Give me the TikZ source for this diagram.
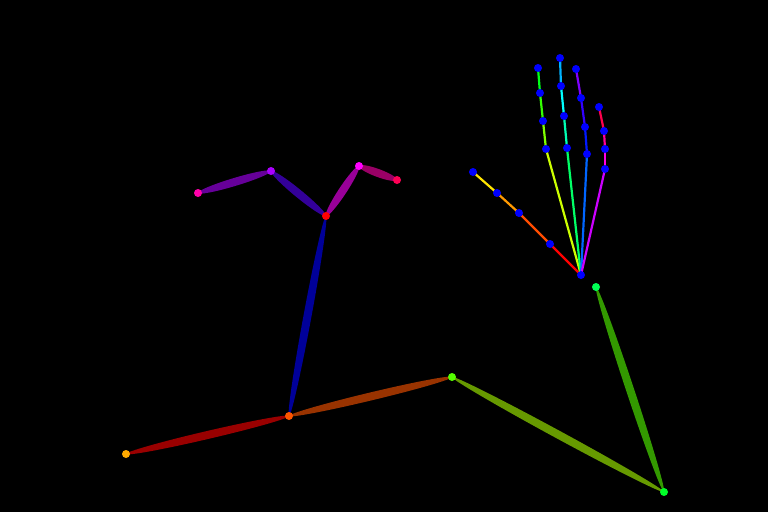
\documentclass[tikz,border=0pt]{standalone}
\usetikzlibrary{calc}
\definecolor{hc0}{RGB}{255,0,0}
\definecolor{hc1}{RGB}{255,76,0}
\definecolor{hc2}{RGB}{255,153,0}
\definecolor{hc3}{RGB}{255,229,0}
\definecolor{hc4}{RGB}{204,255,0}
\definecolor{hc5}{RGB}{127,255,0}
\definecolor{hc6}{RGB}{51,255,0}
\definecolor{hc7}{RGB}{0,255,25}
\definecolor{hc8}{RGB}{0,255,102}
\definecolor{hc9}{RGB}{0,255,178}
\definecolor{hc10}{RGB}{0,255,255}
\definecolor{hc11}{RGB}{0,178,255}
\definecolor{hc12}{RGB}{0,102,255}
\definecolor{hc13}{RGB}{0,25,255}
\definecolor{hc14}{RGB}{51,0,255}
\definecolor{hc15}{RGB}{127,0,255}
\definecolor{hc16}{RGB}{204,0,255}
\definecolor{hc17}{RGB}{255,0,229}
\definecolor{hc18}{RGB}{255,0,153}
\definecolor{hc19}{RGB}{255,0,76}
\definecolor{lAB}{RGB}{51,0,153}
\definecolor{lBC}{RGB}{102,0,153}
\definecolor{lAD}{RGB}{153,0,153}
\definecolor{lDE}{RGB}{153,0,102}
\definecolor{lAF}{RGB}{0,0,153}
\definecolor{lFG}{RGB}{153,0,0}
\definecolor{lFH}{RGB}{153,51,0}
\definecolor{lHI}{RGB}{102,153,0}
\definecolor{lIJ}{RGB}{51,153,0}
\definecolor{pA}{RGB}{255,0,0}
\definecolor{pB}{RGB}{170,0,255}
\definecolor{pC}{RGB}{255,0,170}
\definecolor{pD}{RGB}{255,0,255}
\definecolor{pE}{RGB}{255,0,85}
\definecolor{pF}{RGB}{255,85,0}
\definecolor{pG}{RGB}{255,170,0}
\definecolor{pH}{RGB}{85,255,0}
\definecolor{pI}{RGB}{0,255,40}
\definecolor{pJ}{RGB}{0,255,85}
\definecolor{hdot}{RGB}{0,0,255}
\tikzset{
  dot/.style={circle,inner sep=0pt,minimum size=8pt,draw=none},
  hbone/.style={line width=2.2pt,line cap=round},
}
\newcommand{\limbfill}[3]{%
  \path let \p1=($(#2)-(#1)$), \n1={veclen(\x1,\y1)/2}, \n2={atan2(\y1,\x1)} in
    [fill=#3] ($(#1)!0.5!(#2)$) circle[x radius=\n1, y radius=4pt, rotate=\n2];}
\begin{document}
\begin{tikzpicture}[x=1pt,y=-1pt]
\fill[black] (0,0) rectangle (768,512);
\useasboundingbox (0,0) rectangle (768,512);
% body coordinates
\coordinate (A) at (326,216);
\coordinate (B) at (271,171);
\coordinate (C) at (198,193);
\coordinate (D) at (359,166);
\coordinate (E) at (397,180);
\coordinate (F) at (289,416);
\coordinate (G) at (126,454);
\coordinate (H) at (452,377);
\coordinate (I) at (664,492);
\coordinate (J) at (596,287);
% hand coordinates
\coordinate (W) at (581,275);
\coordinate (t1) at (550,244);
\coordinate (t2) at (519,213);
\coordinate (t3) at (497,193);
\coordinate (t4) at (473,172);
\coordinate (i1) at (546,149);
\coordinate (i2) at (543,121);
\coordinate (i3) at (540,93);
\coordinate (i4) at (538,68);
\coordinate (m1) at (567,148);
\coordinate (m2) at (564,116);
\coordinate (m3) at (561,86);
\coordinate (m4) at (560,58);
\coordinate (r1) at (587,154);
\coordinate (r2) at (585,127);
\coordinate (r3) at (581,98);
\coordinate (r4) at (576,69);
\coordinate (p1) at (605,169);
\coordinate (p2) at (605,149);
\coordinate (p3) at (604,131);
\coordinate (p4) at (599,107);
% body limbs
\limbfill{A}{B}{lAB}
\limbfill{B}{C}{lBC}
\limbfill{A}{D}{lAD}
\limbfill{D}{E}{lDE}
\limbfill{A}{F}{lAF}
\limbfill{F}{G}{lFG}
\limbfill{F}{H}{lFH}
\limbfill{H}{I}{lHI}
\limbfill{I}{J}{lIJ}
% body points
\node[dot,fill=pA] (nA) at (A) {};
\node[dot,fill=pB] (nB) at (B) {};
\node[dot,fill=pC] (nC) at (C) {};
\node[dot,fill=pD] (nD) at (D) {};
\node[dot,fill=pE] (nE) at (E) {};
\node[dot,fill=pF] (nF) at (F) {};
\node[dot,fill=pG] (nG) at (G) {};
\node[dot,fill=pH] (nH) at (H) {};
\node[dot,fill=pI] (nI) at (I) {};
\node[dot,fill=pJ] (nJ) at (J) {};
% hand bones
\draw[hbone,hc0] (W) -- (t1);
\draw[hbone,hc1] (t1) -- (t2);
\draw[hbone,hc2] (t2) -- (t3);
\draw[hbone,hc3] (t3) -- (t4);
\draw[hbone,hc4] (W) -- (i1);
\draw[hbone,hc5] (i1) -- (i2);
\draw[hbone,hc6] (i2) -- (i3);
\draw[hbone,hc7] (i3) -- (i4);
\draw[hbone,hc8] (W) -- (m1);
\draw[hbone,hc9] (m1) -- (m2);
\draw[hbone,hc10] (m2) -- (m3);
\draw[hbone,hc11] (m3) -- (m4);
\draw[hbone,hc12] (W) -- (r1);
\draw[hbone,hc13] (r1) -- (r2);
\draw[hbone,hc14] (r2) -- (r3);
\draw[hbone,hc15] (r3) -- (r4);
\draw[hbone,hc16] (W) -- (p1);
\draw[hbone,hc17] (p1) -- (p2);
\draw[hbone,hc18] (p2) -- (p3);
\draw[hbone,hc19] (p3) -- (p4);
% hand points
\foreach \k in {W,t1,t2,t3,t4,i1,i2,i3,i4,m1,m2,m3,m4,r1,r2,r3,r4,p1,p2,p3,p4}
  \node[dot,fill=hdot] (h\k) at (\k) {};
\end{tikzpicture}
\end{document}
